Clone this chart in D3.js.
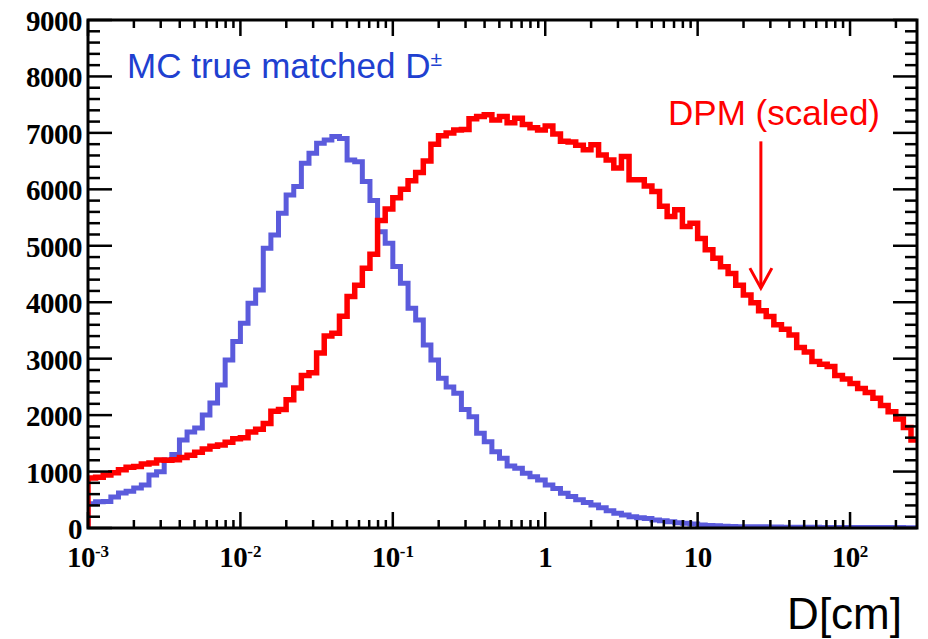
<!DOCTYPE html>
<html>
<head>
<meta charset="utf-8">
<script src="https://cdn.jsdelivr.net/npm/d3@7"></script>
<style>
  html, body { margin: 0; padding: 0; background: #fff; }
  svg { display: block; }
</style>
</head>
<body>
<svg id="chart" width="928" height="639"></svg>
<script>
// histogram binning: 20 log bins per decade starting at 1e-3
const xStart = 1e-3;
const binsPerDecade = 20;
const xEnd = 275;

// DPM (scaled), one value per bin
const dpmValues = [
    886, 900, 940, 980, 1030, 1075, 1090, 1134, 1150, 1205,
    1200, 1210, 1250, 1290, 1340, 1400, 1450, 1470, 1520, 1580,
    1600, 1700, 1750, 1850, 2070, 2100, 2270, 2480, 2700, 2750,
    3100, 3400, 3450, 3750, 4100, 4300, 4600, 4850, 5450, 5650,
    5850, 6000, 6150, 6300, 6500, 6800, 6950, 7000, 7050, 7060,
    7250, 7290, 7320, 7230, 7290, 7180, 7260, 7150, 7090, 7050,
    7120, 6980, 6850, 6840, 6780, 6700, 6790, 6610, 6520, 6380,
    6580, 6170, 6170, 6060, 5960, 5700, 5520, 5640, 5340, 5400,
    5130, 4930, 4780, 4630, 4510, 4300, 4130, 3990, 3850, 3745,
    3600, 3520, 3420, 3200, 3120, 2950, 2900, 2860, 2700, 2640,
    2560, 2470, 2400, 2300, 2170, 2060, 1930, 1780, 1560
];

// MC true matched D+-, one value per bin
const mcValues = [
    430, 466, 470, 550, 620, 650, 709, 762, 939, 998,
    1205, 1300, 1560, 1700, 1772, 2002, 2215, 2534, 2977, 3302,
    3627, 3981, 4218, 4956, 5192, 5576, 5901, 6048, 6462, 6640,
    6817, 6875, 6934, 6900, 6520, 6490, 6137, 5800, 5250, 5045,
    4631, 4336, 3893, 3686, 3243, 2977, 2653, 2500, 2387, 2100,
    1972, 1678, 1529, 1352, 1235, 1100, 1058, 969, 909, 850,
    762, 700, 615, 560, 500, 450, 408, 360, 307, 260,
    230, 200, 183, 170, 142, 130, 110, 94, 85, 70,
    53, 45, 40, 30, 25, 23, 22, 20, 20, 18,
    17, 15, 14, 14, 12, 12, 11, 10, 10, 9,
    10, 9, 8, 8, 7, 8, 7, 6, 6
];

const yTicks = [0, 1000, 2000, 3000, 4000, 5000, 6000, 7000, 8000, 9000];
const xDecades = [-3, -2, -1, 0, 1, 2];
const xDecadeLabels = [['10', '-3'], ['10', '-2'], ['10', '-1'], ['1', ''], ['10', ''], ['10', '2']];

const mcLabel = 'MC true matched D';
const dpmLabel = 'DPM (scaled)';
const xTitle = 'D[cm]';

// arrow annotation in data coordinates
const arrowX = 26;
const arrowFrom = 6850;
const arrowTo = 4250;

const frame = {left: 88, right: 917, top: 20, bottom: 528};
const blue = '#5b5bdc';
const red = '#ff0000';

const svg = d3.select('#chart');

const x = d3.scaleLog().domain([xStart, xEnd]).range([frame.left, frame.right]);
const y = d3.scaleLinear().domain([0, 9000]).range([frame.bottom, frame.top]);

function binEdge (i) {
    return xStart * Math.pow(10, i / binsPerDecade);
}

function stepPoints (values) {
    let pts = [[binEdge(0), 0]];
    values.forEach(function (v, i) {
        pts.push([binEdge(i), v]);
        pts.push([binEdge(i + 1), v]);
    });
    return pts;
}

svg.append('clipPath').attr('id', 'plot-clip')
    .append('rect')
    .attr('x', frame.left)
    .attr('y', frame.top)
    .attr('width', frame.right - frame.left)
    .attr('height', frame.bottom - frame.top);

const line = d3.line()
    .x(d => x(d[0]))
    .y(d => y(d[1]));

const plot = svg.append('g').attr('clip-path', 'url(#plot-clip)');

plot.append('path')
    .datum(stepPoints(mcValues))
    .attr('d', line)
    .attr('fill', 'none')
    .attr('stroke', blue)
    .attr('stroke-width', 5);

plot.append('path')
    .datum(stepPoints(dpmValues))
    .attr('d', line)
    .attr('fill', 'none')
    .attr('stroke', red)
    .attr('stroke-width', 5.5);

// ticks
let yMinor = d3.range(0, 9001, 200);
let xMinor = [];
xDecades.forEach(function (e) {
    for (let k = 2; k <= 9; k++) {
        const v = k * Math.pow(10, e);
        if (v < xEnd) xMinor.push(v);
    }
});
const xMajor = xDecades.map(e => Math.pow(10, e));

const ticks = svg.append('g')
    .attr('stroke', '#000')
    .attr('stroke-width', 2.5);

ticks.selectAll('.ytick-l')
    .data(yMinor)
    .enter()
    .append('line')
    .attr('x1', frame.left)
    .attr('x2', d => frame.left + (d % 1000 === 0 ? 24 : 12))
    .attr('y1', d => y(d))
    .attr('y2', d => y(d));

ticks.selectAll('.ytick-r')
    .data(yMinor)
    .enter()
    .append('line')
    .attr('x1', frame.right)
    .attr('x2', d => frame.right - (d % 1000 === 0 ? 24 : 12))
    .attr('y1', d => y(d))
    .attr('y2', d => y(d));

const xAll = xMajor.map(v => ({v: v, len: 16})).concat(xMinor.map(v => ({v: v, len: 8})));

ticks.selectAll('.xtick-b')
    .data(xAll)
    .enter()
    .append('line')
    .attr('x1', d => x(d.v))
    .attr('x2', d => x(d.v))
    .attr('y1', frame.bottom)
    .attr('y2', d => frame.bottom - d.len);

ticks.selectAll('.xtick-t')
    .data(xAll)
    .enter()
    .append('line')
    .attr('x1', d => x(d.v))
    .attr('x2', d => x(d.v))
    .attr('y1', frame.top)
    .attr('y2', d => frame.top + d.len);

svg.append('rect')
    .attr('x', frame.left)
    .attr('y', frame.top)
    .attr('width', frame.right - frame.left)
    .attr('height', frame.bottom - frame.top)
    .attr('fill', 'none')
    .attr('stroke', '#000')
    .attr('stroke-width', 3);

// tick labels
svg.selectAll('.ylabel')
    .data(yTicks)
    .enter()
    .append('text')
    .attr('x', 82)
    .attr('y', d => y(d) + 11)
    .attr('text-anchor', 'end')
    .style('font-family', '"Liberation Serif", "Times New Roman", serif')
    .style('font-weight', 'bold')
    .style('font-size', '29px')
    .style('letter-spacing', '-0.5px')
    .text(d => d);

const xl = svg.selectAll('.xlabel')
    .data(xDecades)
    .enter()
    .append('text')
    .attr('x', d => x(Math.pow(10, d)))
    .attr('y', 567)
    .attr('text-anchor', 'middle')
    .style('font-family', '"Liberation Serif", "Times New Roman", serif')
    .style('font-weight', 'bold')
    .style('font-size', '29px');

xl.append('tspan')
    .style('letter-spacing', '-0.5px')
    .text((d, i) => xDecadeLabels[i][0]);
xl.append('tspan')
    .attr('dy', -10)
    .style('font-size', '17px')
    .text((d, i) => xDecadeLabels[i][1]);

// legend texts
const mcText = svg.append('text')
    .attr('x', 127)
    .attr('y', 78)
    .attr('fill', '#2040d0')
    .style('font-family', '"Liberation Sans", Arial, sans-serif')
    .style('font-size', '35px')
    .text(mcLabel);
mcText.append('tspan')
    .attr('dy', -12)
    .style('font-size', '21px')
    .text('\u00b1');

svg.append('text')
    .attr('x', 880)
    .attr('y', 125)
    .attr('text-anchor', 'end')
    .attr('fill', red)
    .style('font-family', '"Liberation Sans", Arial, sans-serif')
    .style('font-size', '35px')
    .text(dpmLabel);

svg.append('text')
    .attr('x', 902)
    .attr('y', 629)
    .attr('text-anchor', 'end')
    .attr('fill', '#000')
    .style('font-family', '"Liberation Sans", Arial, sans-serif')
    .style('font-size', '44px')
    .text(xTitle);

// arrow
const ax = x(arrowX);
const arrow = svg.append('g')
    .attr('stroke', red)
    .attr('stroke-width', 3)
    .attr('fill', 'none');
arrow.append('line')
    .attr('x1', ax).attr('x2', ax)
    .attr('y1', y(arrowFrom)).attr('y2', y(arrowTo));
arrow.append('polyline')
    .attr('points', [[ax - 11, y(arrowTo) - 20], [ax, y(arrowTo)], [ax + 11, y(arrowTo) - 20]].map(p => p.join(',')).join(' '));
</script>
</body>
</html>
